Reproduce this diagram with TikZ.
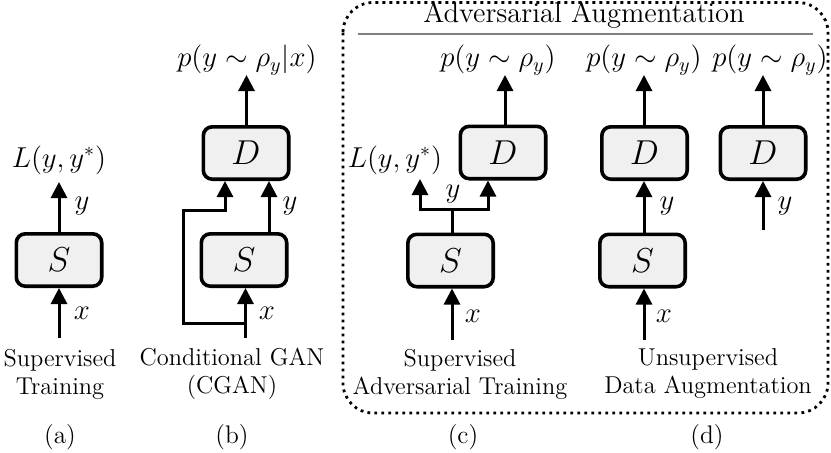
\documentclass[tikz,border=0pt]{standalone}
\usepackage{amsmath}
\usetikzlibrary{arrows.meta,calc}
\begin{document}
\begin{tikzpicture}[x=0.5pt,y=-0.5pt,
  box/.style={draw=black,line width=1.8pt,rounded corners=4.5pt,fill=black!6,
    minimum width=42.7pt,minimum height=26.2pt,inner sep=0pt,font=\fontsize{16}{19}\selectfont},
  arr/.style={line width=1.5pt,-{Triangle[length=8pt,width=8pt]}},
  wire/.style={line width=1.5pt},
  lab/.style={inner sep=0pt,font=\fontsize{14.3}{17}\selectfont},
  captext/.style={inner sep=0pt,align=center,font=\fontsize{12.2}{14}\selectfont},
  sublab/.style={inner sep=0pt,font=\fontsize{12.7}{15}\selectfont}]
\useasboundingbox (0,0) rectangle (831,452);

% frame
\draw[line width=1.4pt,dash pattern=on 1.4pt off 2.1pt,rounded corners=15pt] (343,2.5) rectangle (828,413);
\node[inner sep=0pt,font=\fontsize{14.3}{17}\selectfont] (title) at (584,15) {Adversarial Augmentation};
\coordinate (tl) at (358,34);
\coordinate (tr) at (813,34);
\draw[black!50,line width=0.6pt] (tl) -- (tr);

% (a)
\node[box] (aS) at (59,260) {$S$};
\coordinate (aIn) at (59,338);
\coordinate (aOut) at (59,182);
\draw[arr] (aIn) -- (aS);
\draw[arr] (aS) -- (aOut);
\node[lab] (aL) at (59,160) {$L(y,y^*)$};
\node[lab] (ax) at (82,313) {$x$};
\node[lab] (ay) at (82,206) {$y$};
\node[captext] (acap) at (60,374) {Supervised\\Training};
\node[sublab] (asub) at (60,437) {(a)};

% (b)
\node[box] (bD) at (246,153) {$D$};
\node[box] (bS) at (244,260) {$S$};
\coordinate (bIn) at (245.5,338);
\coordinate (bTap) at (245.5,323);
\coordinate (bL1) at (183,323);
\coordinate (bL2) at (183,210);
\coordinate (bL3) at (225,210);
\coordinate (bR) at (269,0);
\coordinate (bOut) at (246.5,75);
\draw[arr] (bIn) -- (bS.south -| bIn);
\draw[arr,rounded corners=0pt] (bTap) -- (bL1) -- (bL2) -- (bL3) -- (bD.south -| bL3);
\draw[arr] (bS.north -| bR) -- (bD.south -| bR);
\draw[arr] (bD.north -| bOut) -- (bOut);
\node[lab] (bP) at (247,60) {$p(y\sim\rho_y|x)$};
\node[lab] (bx) at (267,313) {$x$};
\node[lab] (by) at (290,206) {$y$};
\node[captext] (bcap) at (232,374) {Conditional GAN\\(CGAN)};
\node[sublab] (bsub) at (232,437) {(b)};

% (c)
\node[box] (cD) at (503,152.5) {$D$};
\node[box] (cS) at (450.5,260.5) {$S$};
\coordinate (cIn) at (452,340);
\coordinate (cJ) at (452,209);
\coordinate (cJL) at (420,209);
\coordinate (cJR) at (488,209);
\coordinate (cLo) at (420,179);
\coordinate (cOut) at (505,75);
\draw[arr] (cIn) -- (cS.south -| cIn);
\draw[wire] (cS.north -| cJ) -- (cJ);
\draw[arr] (cJ) -- (cJL) -- (cLo);
\draw[arr] (cJ) -- (cJR) -- (cD.south -| cJR);
\draw[arr] (cD.north -| cOut) -- (cOut);
\node[lab] (cP) at (498,60) {$p(y\sim\rho_y)$};
\node[lab] (cL) at (395,160) {$L(y,y^*)$};
\node[lab] (cy) at (453,194) {$y$};
\node[lab] (cx) at (473,316) {$x$};
\node[captext] (ccap) at (460,374) {Supervised\\Adversarial Training};
\node[sublab] (csub) at (463,437) {(c)};

% (d)
\node[box] (dD) at (644.5,153) {$D$};
\node[box] (dS) at (642.5,260.5) {$S$};
\coordinate (dIn) at (644,340);
\coordinate (dOut) at (644,75);
\draw[arr] (dIn) -- (dS.south -| dIn);
\draw[arr] (dS.north -| dIn) -- (dD.south -| dIn);
\draw[arr] (dD.north -| dOut) -- (dOut);
\node[lab] (dP) at (644,60) {$p(y\sim\rho_y)$};
\node[lab] (dx) at (664,316) {$x$};
\node[lab] (dy) at (667,206) {$y$};

\node[box] (eD) at (763,153) {$D$};
\coordinate (eIn) at (763,230);
\coordinate (eOut) at (763,75);
\draw[arr] (eIn) -- (eD.south -| eIn);
\draw[arr] (eD.north -| eOut) -- (eOut);
\node[lab] (eP) at (770,60) {$p(y\sim\rho_y)$};
\node[lab] (ey) at (785,206) {$y$};

\node[captext] (dcap) at (708,374) {Unsupervised\\Data Augmentation};
\node[sublab] (dsub) at (707,437) {(d)};
\end{tikzpicture}
\end{document}
